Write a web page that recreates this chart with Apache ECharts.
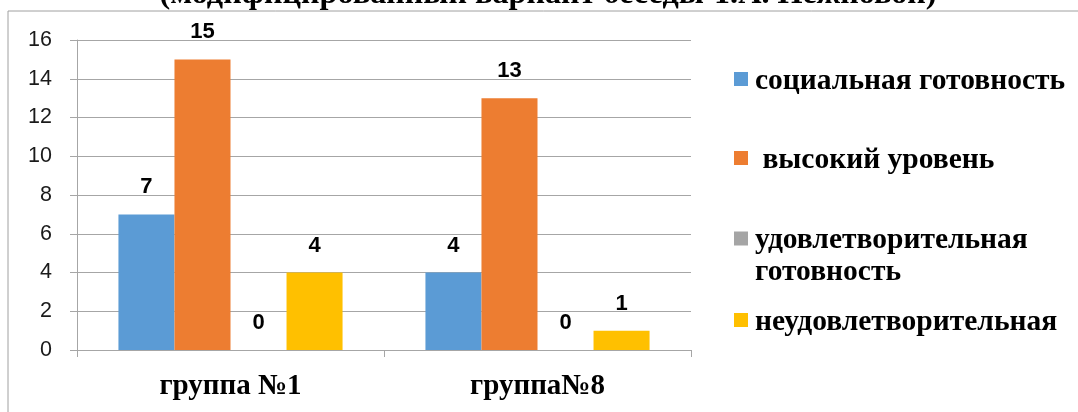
<!DOCTYPE html>
<html><head><meta charset="utf-8">
<script src="https://cdn.jsdelivr.net/npm/echarts@6/dist/echarts.min.js"></script>
<style>html,body{margin:0;padding:0;background:#fff}#c{width:1078px;height:412px}</style>
</head><body><div id="c"></div>
<script>
const titleText = '(модифицированный вариант беседы Т.А. Нежновой)';
const categories = ['группа №1', 'группа№8'];
const seriesNames = ['социальная готовность', ' высокий уровень', 'удовлетворительная\nготовность', 'неудовлетворительная'];
const seriesColors = ['#5b9bd5', '#ed7d31', '#a5a5a5', '#ffc000'];
const socialValues = [7, 4];
const highValues = [15, 13];
const satisfValues = [0, 0];
const unsatisfValues = [4, 1];
const yTicks = [0, 2, 4, 6, 8, 10, 12, 14, 16];

const values = [socialValues, highValues, satisfValues, unsatisfValues];
const serif = 'Liberation Serif';
const sans = 'Liberation Sans';
const gridColor = '#a6a6a6';

// legend: icons via legend components, labels via title components (serif bold)
const iconTops = [72, 151, 231.5, 313];
const labelTops = [66.5, 145, 225.5, 307];
const lineStep = 32;
const legends = seriesNames.map((n, i) => ({
  data: [n], left: 734, top: iconTops[i], orient: 'vertical', padding: 0,
  itemWidth: 14, itemHeight: 14, icon: 'rect', selectedMode: false,
  formatter: () => '',
  textStyle: { fontSize: 12 }
}));
const legendLabels = [];
seriesNames.forEach((n, i) => {
  n.split('\n').forEach((line, j) => {
    legendLabels.push({
      text: line, left: 755, top: labelTops[i] + j * lineStep, padding: 0,
      textStyle: { fontFamily: serif, fontWeight: 'bold', fontSize: 29.5, color: '#000' }
    });
  });
});

const chart = echarts.init(document.getElementById('c'));
chart.setOption({
  animation: false,
  title: [{ text: titleText, left: 548, textAlign: 'center', top: -21, padding: 0,
    textStyle: { fontFamily: serif, fontWeight: 'bold', fontSize: 32.2, color: '#000' } }].concat(legendLabels),
  graphic: [{ type: 'rect', shape: { x: 8, y: 11, width: 1100, height: 430 },
    style: { fill: 'none', stroke: '#a0a0a0', lineWidth: 1 }, silent: true }],
  legend: legends,
  grid: { left: 77, right: 387, top: 40, bottom: 62 },
  xAxis: { type: 'category', data: categories,
    axisLine: { lineStyle: { color: gridColor } },
    axisTick: { show: true, length: 7, lineStyle: { color: gridColor } },
    axisLabel: { fontFamily: serif, fontWeight: 'bold', fontSize: 29, color: '#000', margin: 22 } },
  yAxis: { type: 'value', min: yTicks[0], max: yTicks[yTicks.length - 1], interval: 2,
    axisLine: { show: true, lineStyle: { color: gridColor } },
    axisTick: { show: true, length: 7, lineStyle: { color: gridColor } },
    splitLine: { lineStyle: { color: gridColor } },
    axisLabel: { fontFamily: sans, fontSize: 21.5, color: '#1a1a1a', margin: 25 } },
  series: seriesNames.map((n, i) => ({
    name: n, type: 'bar', data: values[i], barGap: 0, barCategoryGap: '27%',
    itemStyle: { color: seriesColors[i] },
    label: { show: true, position: 'top', distance: 16, fontFamily: sans, fontWeight: 'bold', fontSize: 22, color: '#000' }
  }))
});
</script></body></html>
